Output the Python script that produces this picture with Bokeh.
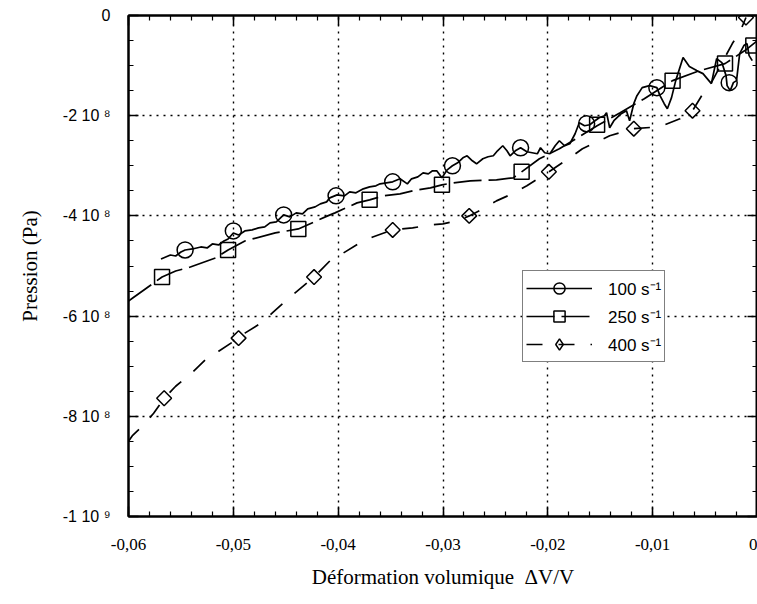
import numpy as np
from bokeh.plotting import figure
from bokeh.models import LinearAxis, FixedTicker, Legend, LegendItem, Range1d
from bokeh.embed import file_html
from bokeh.resources import INLINE

# ---------------- data ----------------
x_ticks = [-0.06, -0.05, -0.04, -0.03, -0.02, -0.01, 0.0]
x_tick_labels = ["-0,06", "-0,05", "-0,04", "-0,03", "-0,02", "-0,01", "0"]
y_ticks = [0.0, -2e8, -4e8, -6e8, -8e8, -1e9]
y_tick_labels = ["0", "-2 10 \u2078", "-4 10 \u2078", "-6 10 \u2078", "-8 10 \u2078", "-1 10 \u2079"]

series_names = ["100 s\u207b\u00b9", "250 s\u207b\u00b9", "400 s\u207b\u00b9"]

# 100 s-1 (solid, noisy)
x_100 = [-0.0569, -0.0560, -0.0555, -0.0550, -0.0546, -0.0539, -0.0531, -0.0525, -0.0520, -0.0514,
         -0.0509, -0.0505, -0.0500, -0.0495, -0.0489, -0.0482, -0.0476, -0.0470, -0.0465, -0.0459,
         -0.0452, -0.0446, -0.0440, -0.0434, -0.0429, -0.0422, -0.0417, -0.0411, -0.0408, -0.0401,
         -0.0394, -0.0389, -0.0383, -0.0376, -0.0370, -0.0364, -0.0360, -0.0354, -0.0348, -0.0341,
         -0.0334, -0.0330, -0.0324, -0.0319, -0.0314, -0.0310, -0.0306, -0.0301, -0.0296, -0.0291,
         -0.0286, -0.0281, -0.0277, -0.0272, -0.0268, -0.0262, -0.0257, -0.0252, -0.0248, -0.0243,
         -0.0239, -0.0236, -0.0231, -0.0226, -0.0220, -0.0215, -0.0210, -0.0207, -0.0203, -0.0198,
         -0.0193, -0.0189, -0.0184, -0.0179, -0.0174, -0.0170, -0.0165, -0.0160, -0.0155, -0.0151,
         -0.0146, -0.0144, -0.0141, -0.0137, -0.0134, -0.0130, -0.0125, -0.0122, -0.0118, -0.0115,
         -0.0110, -0.0103, -0.0096, -0.0093, -0.0089, -0.0086, -0.0082, -0.0078, -0.0071, -0.0065,
         -0.0058, -0.0052, -0.0048, -0.0044, -0.0041, -0.0039, -0.0034, -0.0030, -0.0029, -0.0026,
         -0.0023, -0.0020, -0.0017, -0.0013, -0.0010, -0.0008, -0.0005]
y_100 = [-4.86e8, -4.78e8, -4.80e8, -4.72e8, -4.68e8, -4.66e8, -4.62e8, -4.64e8, -4.56e8, -4.58e8,
         -4.50e8, -4.46e8, -4.34e8, -4.38e8, -4.30e8, -4.28e8, -4.24e8, -4.22e8, -4.14e8, -4.12e8,
         -3.98e8, -4.02e8, -3.94e8, -3.96e8, -3.86e8, -3.82e8, -3.76e8, -3.72e8, -3.64e8, -3.58e8,
         -3.60e8, -3.52e8, -3.54e8, -3.46e8, -3.42e8, -3.40e8, -3.36e8, -3.34e8, -3.32e8, -3.26e8,
         -3.36e8, -3.26e8, -3.22e8, -3.14e8, -3.16e8, -3.10e8, -3.10e8, -3.24e8, -3.08e8, -3.00e8,
         -2.94e8, -2.84e8, -2.80e8, -2.90e8, -2.96e8, -2.86e8, -2.82e8, -2.80e8, -2.70e8, -2.60e8,
         -2.70e8, -2.80e8, -2.70e8, -2.64e8, -2.72e8, -2.74e8, -2.76e8, -2.64e8, -2.74e8, -2.76e8,
         -2.60e8, -2.50e8, -2.60e8, -2.56e8, -2.36e8, -2.14e8, -2.20e8, -2.18e8, -2.10e8, -2.04e8,
         -2.00e8, -1.94e8, -2.24e8, -2.10e8, -2.04e8, -1.96e8, -1.90e8, -2.10e8, -1.76e8, -1.60e8,
         -1.44e8, -1.40e8, -1.44e8, -1.60e8, -1.76e8, -1.86e8, -1.64e8, -1.30e8, -0.84e8, -1.02e8,
         -1.10e8, -1.16e8, -1.26e8, -1.36e8, -1.06e8, -0.86e8, -0.94e8, -1.20e8, -1.40e8, -1.50e8,
         -1.34e8, -1.30e8, -0.76e8, -0.60e8, -0.56e8, -0.80e8, -0.90e8]
mx_100 = [-0.0546, -0.0500, -0.0452, -0.0402, -0.0348, -0.0291, -0.0226, -0.0163, -0.0096, -0.0027]
my_100 = [-4.68e8, -4.30e8, -3.98e8, -3.60e8, -3.32e8, -3.00e8, -2.64e8, -2.16e8, -1.44e8, -1.34e8]

# 250 s-1 (long dashes)
x_250 = [-0.0600, -0.0596, -0.0568, -0.0555, -0.0541, -0.0517, -0.0505, -0.0489, -0.0460, -0.0438,
         -0.0410, -0.0403, -0.0382, -0.0370, -0.0357, -0.0341, -0.0329, -0.0312, -0.0301, -0.0290,
         -0.0274, -0.0249, -0.0233, -0.0225, -0.0208, -0.0189, -0.0170, -0.0153, -0.0131, -0.0108,
         -0.0081, -0.0055, -0.0031, -0.0012, 0.0]
y_250 = [-5.70e8, -5.64e8, -5.22e8, -5.10e8, -5.02e8, -4.84e8, -4.68e8, -4.50e8, -4.34e8, -4.26e8,
         -4.00e8, -3.94e8, -3.74e8, -3.68e8, -3.60e8, -3.56e8, -3.50e8, -3.44e8, -3.38e8, -3.34e8,
         -3.30e8, -3.28e8, -3.24e8, -3.12e8, -2.86e8, -2.66e8, -2.42e8, -2.20e8, -1.94e8, -1.66e8,
         -1.30e8, -1.10e8, -0.96e8, -0.70e8, -0.50e8]
mx_250 = [-0.0568, -0.0505, -0.0438, -0.0370, -0.0301, -0.0225, -0.0153, -0.0081, -0.0031, -0.0004]
my_250 = [-5.22e8, -4.68e8, -4.26e8, -3.68e8, -3.38e8, -3.12e8, -2.18e8, -1.30e8, -0.96e8, -0.60e8]

# 400 s-1 (dashes)
x_400 = [-0.0600, -0.0596, -0.0587, -0.0576, -0.0566, -0.0555, -0.0541, -0.0527, -0.0514, -0.0495,
         -0.0489, -0.0472, -0.0462, -0.0448, -0.0423, -0.0408, -0.0395, -0.0381, -0.0367, -0.0348,
         -0.0329, -0.0312, -0.0300, -0.0284, -0.0275, -0.0260, -0.0249, -0.0234, -0.0220, -0.0199,
         -0.0179, -0.0167, -0.0141, -0.0118, -0.0093, -0.0074, -0.0062, -0.0052, -0.0044, -0.0024,
         -0.0017, -0.0011]
y_400 = [-8.50e8, -8.38e8, -8.20e8, -7.94e8, -7.64e8, -7.40e8, -7.16e8, -6.88e8, -6.70e8, -6.44e8,
         -6.34e8, -6.12e8, -5.92e8, -5.66e8, -5.22e8, -4.90e8, -4.74e8, -4.56e8, -4.42e8, -4.28e8,
         -4.24e8, -4.18e8, -4.16e8, -4.08e8, -4.00e8, -3.84e8, -3.70e8, -3.56e8, -3.40e8, -3.12e8,
         -2.84e8, -2.66e8, -2.40e8, -2.26e8, -2.22e8, -2.06e8, -1.90e8, -1.56e8, -1.34e8, -0.56e8,
         -0.34e8, -0.04e8]
mx_400 = [-0.0566, -0.0495, -0.0423, -0.0348, -0.0275, -0.0199, -0.0118, -0.0062, -0.0011]
my_400 = [-7.64e8, -6.44e8, -5.22e8, -4.28e8, -4.00e8, -3.12e8, -2.26e8, -1.90e8, -0.04e8]

# ---------------- figure ----------------
p = figure(width=757, height=596,
           x_range=Range1d(x_ticks[0], x_ticks[-1]),
           y_range=Range1d(y_ticks[-1], y_ticks[0]),
           output_backend="svg", toolbar_location=None,
           min_border_left=128, min_border_right=0,
           min_border_top=15, min_border_bottom=80)
p.background_fill_color = "white"
p.border_fill_color = "white"
p.outline_line_color = "black"
p.outline_line_width = 2

x_minor = list(np.linspace(x_ticks[0], x_ticks[-1], 31))
y_minor = list(np.linspace(y_ticks[-1], y_ticks[0], 21))
xticker = FixedTicker(ticks=x_ticks, minor_ticks=x_minor)
yticker = FixedTicker(ticks=y_ticks, minor_ticks=y_minor)

top_axis = LinearAxis()
right_axis = LinearAxis()
p.add_layout(top_axis, "above")
p.add_layout(right_axis, "right")

for ax in p.xaxis:
    ax.ticker = xticker
for ax in p.yaxis:
    ax.ticker = yticker

for ax in p.axis:
    ax.axis_line_color = "black"
    ax.axis_line_width = 2
    ax.major_tick_in = 10
    ax.major_tick_out = 0
    ax.minor_tick_in = 5
    ax.minor_tick_out = 0
    ax.major_tick_line_color = "black"
    ax.major_tick_line_width = 1.5
    ax.minor_tick_line_color = "black"
    ax.minor_tick_line_width = 1.2

for ax in (top_axis, right_axis):
    ax.major_label_text_font_size = "0px"
    ax.major_label_text_color = None
    ax.major_label_standoff = 0

xa = p.below[0]
xa.major_label_overrides = dict(zip(x_ticks, x_tick_labels))
xa.major_label_text_font = "Liberation Serif"
xa.major_label_text_font_size = "17px"
xa.major_label_text_color = "black"
xa.major_label_standoff = 22
xa.axis_label = "D\u00e9formation volumique \u00a0\u0394V/V"
xa.axis_label_text_font = "Liberation Serif"
xa.axis_label_text_font_size = "21px"
xa.axis_label_text_font_style = "normal"
xa.axis_label_text_color = "black"
xa.axis_label_standoff = 12

ya = p.left[0]
ya.major_label_overrides = dict(zip(y_ticks, y_tick_labels))
ya.major_label_text_font = "Liberation Sans"
ya.major_label_text_font_size = "16px"
ya.major_label_text_color = "black"
ya.major_label_standoff = 18
ya.axis_label = "Pression (Pa)"
ya.axis_label_text_font = "Liberation Serif"
ya.axis_label_text_font_size = "21px"
ya.axis_label_text_font_style = "normal"
ya.axis_label_text_color = "black"
ya.axis_label_standoff = 18

for g in (p.xgrid[0], p.ygrid[0]):
    g.grid_line_color = "black"
    g.grid_line_width = 1.4
    g.grid_line_dash = "2 5"

r100 = p.line(x_100, y_100, line_color="black", line_width=1.7)
m100 = p.scatter(mx_100, my_100, marker="circle", size=16, fill_color=None,
                 line_color="black", line_width=1.5)
r250 = p.line(x_250, y_250, line_color="black", line_width=1.7, line_dash="28 7")
m250 = p.scatter(mx_250, my_250, marker="square", size=15, fill_color=None,
                 line_color="black", line_width=1.5)
r400 = p.line(x_400, y_400, line_color="black", line_width=1.7, line_dash="16 16")
m400 = p.scatter(mx_400, my_400, marker="square", size=10.5, angle=np.pi / 4,
                 fill_color=None, line_color="black", line_width=1.5)
# legend-only twin of the 400 markers (legend glyphs ignore the angle); hidden in the plot
k400 = p.scatter(mx_400, my_400, marker="diamond", size=15, fill_color=None,
                 line_color="black", line_width=1.5, visible=False)

legend = Legend(items=[
    LegendItem(label=series_names[0], renderers=[r100, m100]),
    LegendItem(label=series_names[1], renderers=[r250, m250]),
    LegendItem(label=series_names[2], renderers=[r400, k400]),
], location=(394, 154))
legend.click_policy = "none"
legend.border_line_color = "black"
legend.border_line_width = 1.5
legend.background_fill_color = "white"
legend.background_fill_alpha = 1.0
legend.label_text_font = "Liberation Sans"
legend.label_text_font_size = "17px"
legend.label_text_color = "black"
legend.glyph_width = 66
legend.glyph_height = 28
legend.spacing = 0
legend.padding = 3
legend.label_standoff = 16
legend.margin = 0
p.add_layout(legend)

open("out.html", "w").write(file_html(p, INLINE))
